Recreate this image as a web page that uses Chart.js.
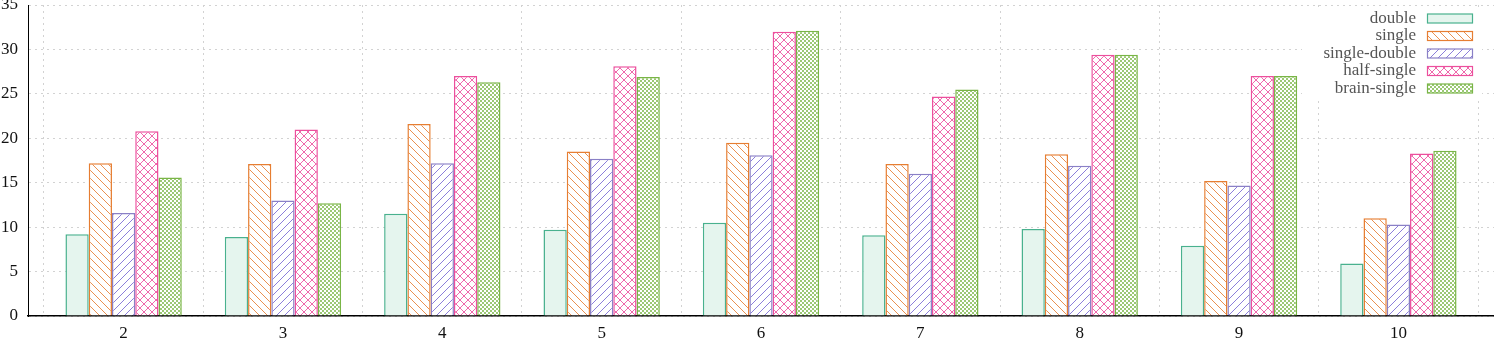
<!DOCTYPE html>
<html>
<head>
  <meta charset="utf-8" />
  <title>Bar chart</title>
  <script src="https://cdn.jsdelivr.net/npm/chart.js"></script>
  <style>
    html, body { margin: 0; padding: 0; background: #fff; }
    #wrap { width: 1494px; height: 340px; }
  </style>
</head>
<body>
<div id="wrap"><canvas id="chart" width="1494" height="340"></canvas></div>

<script>
  // categories on the x axis
  const categories = ['2', '3', '4', '5', '6', '7', '8', '9', '10'];

  // series values
  const doubleVals       = [9.2, 8.9, 11.5, 9.7, 10.5, 9.1, 9.8, 7.9, 5.9];
  const singleVals       = [17.2, 17.1, 21.6, 18.5, 19.5, 17.1, 18.2, 15.2, 11.0];
  const singleDoubleVals = [11.6, 13.0, 17.2, 17.7, 18.1, 16.0, 16.9, 14.7, 10.3];
  const halfSingleVals   = [20.8, 21.0, 27.0, 28.1, 32.0, 24.7, 29.4, 27.0, 18.3];
  const brainSingleVals  = [15.6, 12.7, 26.3, 26.9, 32.1, 25.5, 29.4, 27.0, 18.6];

  const seriesNames = ['double', 'single', 'single-double', 'half-single', 'brain-single'];
  const yTicks = [0, 5, 10, 15, 20, 25, 30, 35];

  const FONT = 'Liberation Serif';
  Chart.defaults.font.family = FONT;
  Chart.defaults.font.size = 17;

  // hatch patterns like gnuplot fill patterns
  function makeTile(size, draw) {
    const c = document.createElement('canvas');
    c.width = size; c.height = size;
    const g = c.getContext('2d');
    draw(g, size);
    return document.getElementById('chart').getContext('2d').createPattern(c, 'repeat');
  }

  function lines(g, s, color, dirs) {
    g.fillStyle = '#fff';
    g.fillRect(0, 0, s, s);
    g.strokeStyle = color;
    g.lineWidth = 1;
    g.beginPath();
    if (dirs.includes('\\')) {
      g.moveTo(-1, -1); g.lineTo(s + 1, s + 1);
      g.moveTo(-1, s - 1); g.lineTo(1, s + 1);
      g.moveTo(s - 1, -1); g.lineTo(s + 1, 1);
    }
    if (dirs.includes('/')) {
      g.moveTo(-1, s + 1); g.lineTo(s + 1, -1);
      g.moveTo(-1, 1); g.lineTo(1, -1);
      g.moveTo(s - 1, s + 1); g.lineTo(s + 1, s - 1);
    }
    g.stroke();
  }

  const colors = ['#49b18e', '#e67e32', '#8a80c6', '#ec4f9d', '#79b546'];

  const fills = [
    '#e5f5ee',
    makeTile(8, (g, s) => lines(g, s, 'rgba(230,126,50,0.85)', '\\')),
    makeTile(8, (g, s) => lines(g, s, 'rgba(120,104,212,0.85)', '/')),
    makeTile(8, (g, s) => lines(g, s, 'rgba(236,79,157,0.85)', '\\/')),
    makeTile(4, (g, s) => {
      g.fillStyle = '#fff';
      g.fillRect(0, 0, s, s);
      g.fillStyle = 'rgba(121,181,70,0.75)';
      g.fillRect(0, 0, 2, 2);
      g.fillRect(2, 2, 2, 2);
    })
  ];

  const seriesVals = [doubleVals, singleVals, singleDoubleVals, halfSingleVals, brainSingleVals];

  const datasets = seriesNames.map((name, k) => ({
    label: name,
    data: seriesVals[k].map((v, i) => ({ x: i, y: v })),
    backgroundColor: fills[k],
    borderColor: colors[k],
    borderWidth: 1.5,
    borderSkipped: 'bottom',
    categoryPercentage: 0.73,
    barPercentage: 1.0
  }));

  // legend drawn gnuplot style: text right aligned, sample box to the right
  const gnuLegend = {
    id: 'gnuLegend',
    afterDatasetsDraw(chart) {
      const ctx = chart.ctx;
      ctx.save();
      ctx.fillStyle = '#fff';
      ctx.fillRect(1302, 9, 180, 88);
      ctx.font = '17px ' + FONT;
      ctx.textAlign = 'right';
      ctx.textBaseline = 'middle';
      seriesNames.forEach((name, k) => {
        const y = 18.5 + k * 17.5;
        ctx.fillStyle = '#555';
        ctx.fillText(name, 1416, y);
        ctx.fillStyle = fills[k];
        ctx.fillRect(1427, y - 4.5, 46, 9);
        ctx.strokeStyle = colors[k];
        ctx.lineWidth = 1.2;
        ctx.strokeRect(1427.5, y - 4.5, 45, 9);
      });
      ctx.restore();
    }
  };

  new Chart(document.getElementById('chart').getContext('2d'), {
    type: 'bar',
    data: { datasets: datasets },
    plugins: [gnuLegend],
    options: {
      responsive: false,
      animation: false,
      devicePixelRatio: 1,
      layout: { padding: { top: 5, right: 0, left: 0, bottom: 0 } },
      plugins: {
        legend: { display: false },
        tooltip: { enabled: false }
      },
      scales: {
        x: {
          type: 'linear',
          min: -0.6,
          max: 8.6,
          offset: false,
          afterBuildTicks: (axis) => {
            axis.ticks = categories.map((c, i) => ({ value: i }));
          },
          afterFit: (axis) => {
            axis.height = 24;
            axis.paddingLeft = 0;
            axis.paddingRight = 0;
          },
          ticks: {
            color: '#111',
            font: { family: FONT, size: 17 },
            padding: 7,
            maxRotation: 0,
            autoSkip: false,
            callback: (v) => categories[v] ?? ''
          },
          grid: {
            color: '#d2d2d2',
            lineWidth: 1,
            drawTicks: false
          },
          border: { display: true, color: '#000', width: 1.5, dash: [2, 4] }
        },
        y: {
          min: 0,
          max: 35,
          afterBuildTicks: (axis) => {
            axis.ticks = yTicks.map(v => ({ value: v }));
          },
          afterFit: (axis) => {
            axis.width = 28;
            axis.paddingTop = 0;
            axis.paddingBottom = 0;
          },
          ticks: {
            color: '#111',
            font: { family: FONT, size: 17 },
            padding: 10
          },
          grid: {
            color: '#d2d2d2',
            lineWidth: 1,
            drawTicks: false
          },
          border: { display: true, color: '#000', width: 1, dash: [2, 4] }
        }
      }
    }
  });
</script>
</body>
</html>
